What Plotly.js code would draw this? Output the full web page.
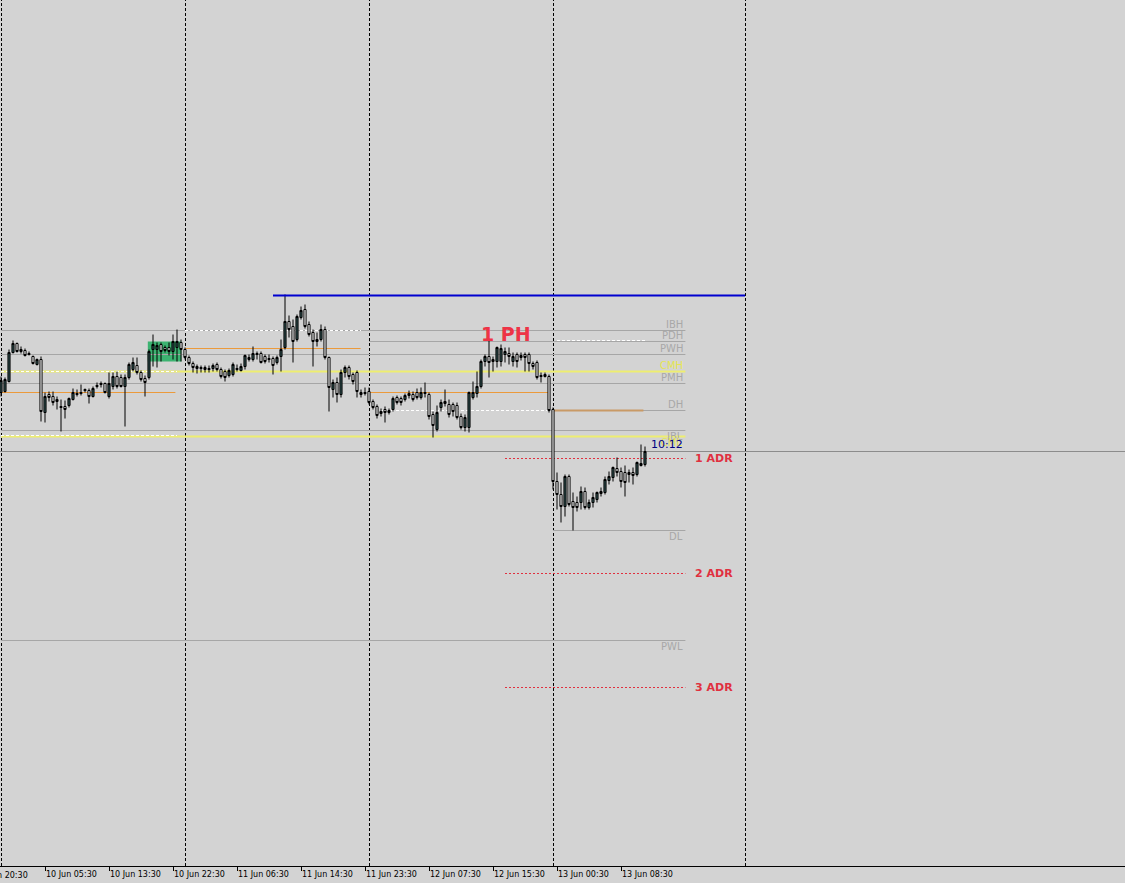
<!DOCTYPE html>
<html><head><meta charset="utf-8">
<script src="https://cdn.plot.ly/plotly-3.0.1.min.js"></script>
<style>html,body{margin:0;padding:0;background:#d3d3d3;}#chart{width:1125px;height:883px;}</style>
</head><body><div id="chart"></div>
<script>
// M30 bars, index 0 = first visible bar
const openP = [607,608,618,647,656,650,649,646,643,635,640,587,605,603,600,593,593,594,600,605,607,610,609,603,613,615,616,603,613,623,622,613,622,630,634,627,621,622,650,650,655,652,652,648,652,657,650,642,636,633,632,632,631,631,635,630,628,624,625,630,629,633,642,640,646,646,643,641,641,637,643,652,678,673,660,682,690,675,667,660,660,670,642,610,617,605,627,632,625,627,607,606,608,598,593,588,590,589,590,602,601,600,606,605,607,602,606,605,585,570,592,596,595,595,594,583,572,572,602,606,613,638,643,640,638,638,645,646,638,645,644,645,645,636,637,624,625,623,590,518,505,493,523,498,497,497,508,492,497,500,506,507,519,522,531,528,527,527,527,525,534,535];
const highP = [623,622,650,659,657,653,651,648,644,641,643,607,608,608,603,600,599,602,611,610,615,611,611,613,617,618,617,627,627,628,625,625,637,642,642,629,624,650,665,657,657,654,657,665,670,660,652,644,638,635,634,634,634,636,637,632,630,631,637,635,636,645,645,653,648,648,645,645,643,644,660,705,684,680,685,693,695,678,670,667,675,673,643,620,622,630,634,634,627,629,610,612,612,600,595,591,593,591,603,604,603,606,609,608,611,612,617,607,588,594,600,610,600,597,597,586,585,608,618,628,640,645,659,643,653,655,652,652,647,647,647,647,647,638,639,627,627,625,592,527,517,525,525,507,503,513,512,500,507,508,512,523,528,533,542,532,534,530,532,538,555,553];
const lowP = [603,607,617,646,647,646,643,644,635,634,578,577,598,594,590,568,581,592,599,603,604,607,596,602,611,612,606,601,610,611,612,573,620,628,625,618,603,620,633,632,638,647,644,640,638,638,640,634,627,626,627,627,627,628,628,621,618,622,623,628,628,630,638,638,640,636,636,637,625,635,628,650,662,637,658,680,671,663,633,653,658,640,588,602,597,602,622,620,615,602,602,604,595,590,581,583,577,585,588,595,594,598,601,598,600,600,602,580,562,568,588,593,582,583,580,570,568,567,600,602,611,633,622,628,632,633,637,635,633,632,639,628,628,630,620,617,622,587,510,490,477,483,493,469,488,490,490,490,492,497,503,505,515,518,523,512,503,517,515,523,533,533];
const closeP = [619,620,647,656,648,648,644,645,636,640,588,603,602,597,598,592,590,601,607,606,606,609,603,611,614,616,607,616,623,613,613,622,635,637,627,620,617,648,655,654,648,649,648,658,658,650,642,636,632,631,631,630,630,634,630,623,622,629,635,631,633,644,640,646,645,637,638,640,634,642,650,678,670,658,683,689,673,665,658,658,670,642,612,617,605,627,632,623,618,608,605,607,597,592,584,586,587,587,601,597,597,604,604,600,602,607,607,583,574,587,597,598,585,588,582,572,582,607,607,613,638,643,637,638,652,651,648,643,643,638,642,642,636,633,622,623,623,589,518,505,493,523,495,492,492,508,492,497,502,507,508,520,523,532,527,518,517,525,524,537,536,548];

// time axis
const tickBars = [11,27,43,59,75,91,107,123,139,155];
const tickLabels = ['10 Jun 05:30','10 Jun 13:30','10 Jun 22:30','11 Jun 06:30','11 Jun 14:30','11 Jun 23:30','12 Jun 07:30','12 Jun 15:30','13 Jun 00:30','13 Jun 08:30'];
const cutLabel = '9 Jun 20:30';
const daySeparators = [0,46,92,138,186];

// key levels
const levelNames  = ['IBH','PDH','PWH','CMH','PMH','DH','IBL','CML','DL','PWL'];
const levelPrices = [669,658,645,628,616,589,569,563,469,359];
const levelStart  = [0,92,0,0,0,138,0,0,138,0];
const levelIsHigh = [true,true,true,true,true,true,false,false,false,false];
const levelIsYellow = [false,false,false,true,false,false,false,true,false,false];
const levelEnd = 171.1;

const adrNames  = ['1 ADR','2 ADR','3 ADR'];
const adrPrices = [541,426,312];
const adrStart = 126;

const sessionStart = [0,46,92];
const sessionEnd   = [43.6,89.9,137];
const sessionPrice = [607,651,607];
const dayHighStart = 138, dayHighEnd = 160.6;

const whiteDashStart = [46,0,0,95,139];
const whiteDashEnd   = [90,44,44,137,161];
const whiteDashPrice = [669,628,564,589,659];

const swingHigh = 704, swingStart = 68, swingEnd = 186;
const ibBoxStart = 36.7, ibBoxEnd = 45.1, ibBoxHigh = 658, ibBoxLow = 638;
const phText = '1 PH', phBar = 126.15, phPrice = 666;
const timerText = '10:12';

const halfPx = 0.125; // half a screen pixel in bar units, keeps 1px verticals crisp
const xs = openP.map((_, i) => i);
const bid = closeP[closeP.length - 1];

const shapes = [];
shapes.push({type:'rect', xref:'x', yref:'y', x0:ibBoxStart, x1:ibBoxEnd, y0:ibBoxLow, y1:ibBoxHigh,
  fillcolor:'#3cb371', line:{width:0}, layer:'below'});
levelPrices.forEach((p,i)=>{
  shapes.push({type:'line', xref:'x', yref:'y', x0:levelStart[i], x1:levelEnd, y0:p, y1:p,
    line:{color: levelIsYellow[i] ? '#eeee70' : '#a6a6a6', width: levelIsYellow[i] ? 2 : 1}, layer:'below'});
});
sessionPrice.forEach((p,i)=>{
  shapes.push({type:'line', xref:'x', yref:'y', x0:sessionStart[i], x1:sessionEnd[i], y0:p, y1:p,
    line:{color:'#eb9a3c', width:1}, layer:'below'});
});
shapes.push({type:'line', xref:'x', yref:'y', x0:dayHighStart, x1:dayHighEnd, y0:levelPrices[5], y1:levelPrices[5],
  line:{color:'#c99a66', width:2}, layer:'below'});
whiteDashPrice.forEach((p,i)=>{
  shapes.push({type:'line', xref:'x', yref:'y', x0:whiteDashStart[i], x1:whiteDashEnd[i], y0:p, y1:p,
    line:{color:'#ffffff', width:1, dash:'3px,2px'}, layer:'below'});
});
adrPrices.forEach(p=>{
  shapes.push({type:'line', xref:'x', yref:'y', x0:adrStart, x1:levelEnd, y0:p, y1:p,
    line:{color:'#e0303f', width:1, dash:'2px,2px'}, layer:'below'});
});
daySeparators.forEach(d=>{
  shapes.push({type:'line', xref:'x', yref:'paper', x0:d + halfPx, x1:d + halfPx, y0:0, y1:1,
    line:{color:'#000000', width:1, dash:'3px,2px'}, layer:'below'});
});
shapes.push({type:'line', xref:'paper', yref:'y', x0:0, x1:1, y0:bid, y1:bid,
  line:{color:'#8c8c8c', width:1}, layer:'below'});
shapes.push({type:'line', xref:'x', yref:'y', x0:swingStart, x1:swingEnd, y0:swingHigh, y1:swingHigh,
  line:{color:'#0000d0', width:2}, layer:'above'});

const annotations = [];
levelNames.forEach((n,i)=>{
  annotations.push({xref:'x', yref:'y', x:levelEnd, y:levelPrices[i], text:n, showarrow:false,
    xanchor:'right', yanchor:'middle', yshift: levelIsHigh[i] ? 6 : -6,
    font:{family:'DejaVu Sans', size:10, color: levelIsYellow[i] ? '#e6e650' : '#a8a8a8'}});
});
annotations.push({xref:'x', yref:'y', x:levelEnd, y:bid, text:timerText, showarrow:false,
  xanchor:'right', yanchor:'middle', yshift:7, font:{family:'DejaVu Sans', size:11, color:'#000080'}});
adrNames.forEach((n,i)=>{
  annotations.push({xref:'x', yref:'y', x:levelEnd, y:adrPrices[i], text:'<b>'+n+'</b>', showarrow:false,
    xanchor:'left', yanchor:'middle', xshift:8, font:{family:'DejaVu Sans', size:11, color:'#e0303f'}});
});
annotations.push({xref:'x', yref:'y', x:phBar, y:phPrice, text:'<b>'+phText+'</b>', showarrow:false,
  xanchor:'center', yanchor:'middle', font:{family:'DejaVu Sans', size:19, color:'#ee3346'}});
annotations.push({xref:'paper', yref:'paper', x:0, y:0, text:cutLabel, showarrow:false,
  xanchor:'left', yanchor:'top', xshift:-20, yshift:-3, font:{family:'DejaVu Sans', size:8, color:'#000'}});

const trace = {
  type:'candlestick', x:xs, open:openP, high:highP, low:lowP, close:closeP,
  increasing:{line:{color:'#000000', width:1}, fillcolor:'#2f4f4f'},
  decreasing:{line:{color:'#000000', width:1}, fillcolor:'#ffffff'},
  whiskerwidth:0, hoverinfo:'skip', showlegend:false
};

const layout = {
  width:1125, height:883,
  margin:{l:0, r:0, t:0, b:17, pad:0},
  paper_bgcolor:'#d3d3d3', plot_bgcolor:'#d3d3d3',
  showlegend:false, boxgap:0.25,
  xaxis:{range:[-0.25, 281], rangeslider:{visible:false}, showgrid:false, zeroline:false,
    showline:true, linecolor:'#000', linewidth:1, ticks:'outside', ticklen:4, tickcolor:'#000',
    tickvals:tickBars, ticktext:tickLabels, ticklabelposition:'outside right',
    tickfont:{family:'DejaVu Sans', size:8, color:'#000'}, fixedrange:true},
  yaxis:{range:[133.5, 999.5], visible:false, fixedrange:true},
  shapes:shapes, annotations:annotations
};
Plotly.newPlot('chart', [trace], layout, {displayModeBar:false, staticPlot:true});
</script></body></html>
